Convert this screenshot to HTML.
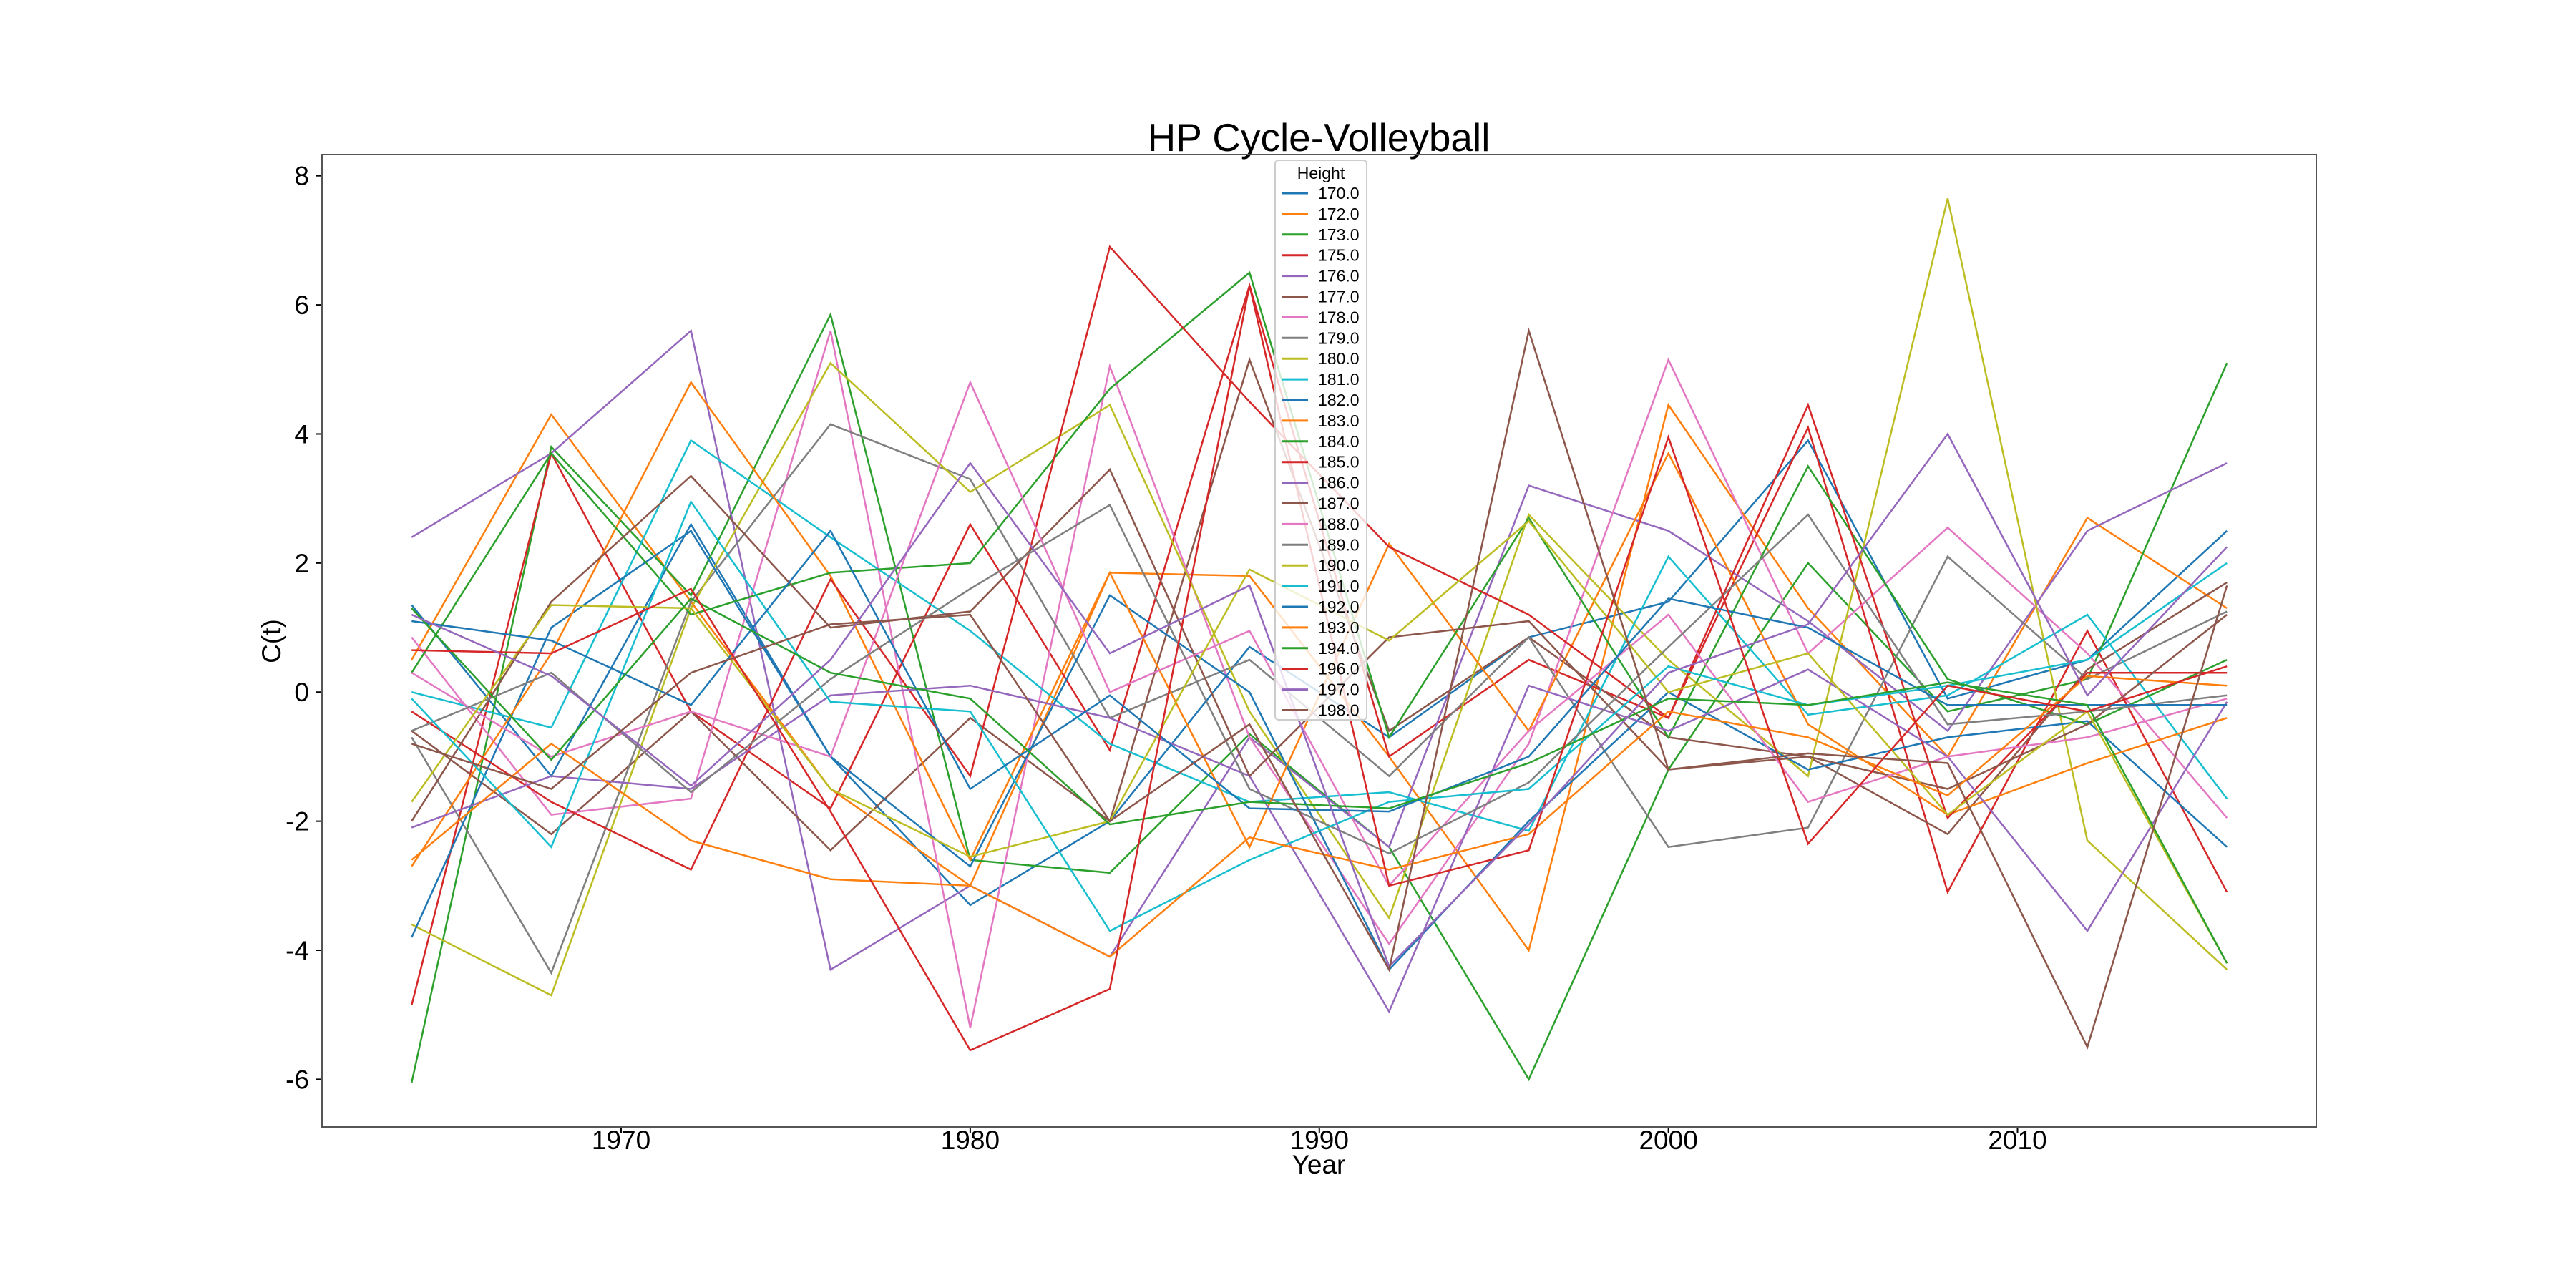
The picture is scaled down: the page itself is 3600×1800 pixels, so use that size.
<!DOCTYPE html>
<html><head><meta charset="utf-8"><style>
html,body{margin:0;padding:0;background:#fff;}
svg{display:block;font-family:"Liberation Sans","DejaVu Sans",sans-serif;}
</style></head><body>
<svg id="chart" width="3600" height="1800" viewBox="0 0 3600 1800" xmlns="http://www.w3.org/2000/svg">
<rect width="3600" height="1800" fill="#fff"/>
<text x="1843" y="211" font-size="55" text-anchor="middle">HP Cycle-Volleyball</text>
<g id="plot"></g>
<rect x="450" y="216" width="2787" height="1359" fill="none" stroke="#555" stroke-width="2"/>
<text x="1843" y="1640" font-size="37" text-anchor="middle">Year</text>
<text x="392" y="896" font-size="37" text-anchor="middle" transform="rotate(-90 392 896)">C(t)</text>
<g id="legend"></g>
</svg>
<script>
const years=[1964,1968,1972,1976,1980,1984,1988,1992,1996,2000,2004,2008,2012,2016];
const xTicks=[1970,1980,1990,2000,2010];
const yTicks=[-6,-4,-2,0,2,4,6,8];
const labels=["170.0","172.0","173.0","175.0","176.0","177.0","178.0","179.0","180.0","181.0","182.0","183.0","184.0","185.0","186.0","187.0","188.0","189.0","190.0","191.0","192.0","193.0","194.0","196.0","197.0","198.0"];
const s170=[1.35,-1.3,2.6,-1.0,-3.3,-2.0,0.7,-0.7,0.85,1.4,3.9,-0.1,0.5,2.5];
const s172=[0.5,4.3,1.4,-1.5,-3.0,1.85,1.8,-1.0,-4.0,4.45,1.3,-1.0,2.7,1.3];
const s173=[-6.05,3.8,1.5,5.85,-2.6,-2.8,-0.65,-2.4,-6.0,-1.2,2.0,-0.3,0.2,5.1];
const s175=[-4.85,3.7,-0.3,-1.8,2.6,-0.9,6.3,-1.0,0.5,-0.4,4.1,-3.1,0.95,-3.1];
const s176=[2.4,3.7,5.6,-4.3,-3.0,-4.1,-0.7,-2.4,3.2,2.5,1.1,-0.6,2.5,3.55];
const s177=[-0.6,-2.2,-0.3,-2.45,-0.4,-2.0,5.15,-0.6,0.85,-0.7,-1.0,-2.2,0.35,1.7];
const s178=[0.85,-1.9,-1.65,5.6,-5.2,5.05,-0.7,-3.9,-0.8,5.15,0.6,2.55,0.6,-1.95];
const s179=[-0.7,-4.35,1.4,4.15,3.3,-0.4,0.5,-1.3,0.85,-2.4,-2.1,2.1,0.2,1.25];
const s180=[-3.6,-4.7,1.3,5.1,3.1,4.45,-0.3,-3.5,2.75,0.5,-1.3,7.65,-2.3,-4.3];
const s181=[0.0,-0.55,3.9,2.4,0.95,-0.8,-1.7,-1.55,-2.15,2.1,-0.35,-0.05,1.2,-1.65];
const s182=[-3.8,1.0,2.5,-1.0,-2.7,1.5,0.0,-4.3,-2.0,0.0,-1.2,-0.7,-0.45,-2.4];
const s183=[-2.7,0.6,4.8,1.8,-2.6,1.85,-2.4,2.3,-0.6,3.7,-0.5,-1.9,-1.1,-0.4];
const s184=[0.3,3.7,1.2,1.85,2.0,4.7,6.5,-0.7,2.7,-0.7,3.5,0.2,-0.5,0.5];
const s185=[-0.3,-1.7,-2.75,1.75,-1.3,6.9,4.5,2.25,1.2,-0.4,4.45,-1.95,0.3,0.3];
const s186=[-2.1,-1.3,-1.5,-0.05,0.1,-0.4,-1.3,-4.95,0.1,-0.6,0.35,-1.0,-3.7,-0.15];
const s187=[-2.0,1.4,3.35,1.0,1.25,3.45,-1.3,0.85,1.1,-1.2,-1.0,-1.5,-0.5,1.2];
const s188=[0.3,-1.0,-0.3,-1.0,4.8,0.0,0.95,-3.0,-0.6,1.2,-1.7,-1.0,-0.7,-0.1];
const s189=[-0.6,0.3,-1.55,0.2,1.6,2.9,-1.5,-2.5,-1.4,0.7,2.75,-0.5,-0.3,-0.05];
const s190=[-1.7,1.35,1.3,-1.5,-2.55,-2.0,1.9,0.8,2.65,0.0,0.6,-1.9,-0.3,-4.2];
const s191=[-0.1,-2.4,2.95,-0.15,-0.3,-3.7,-2.6,-1.7,-1.5,0.4,-0.2,0.1,0.5,2.0];
const s192=[1.1,0.8,-0.2,2.5,-1.5,-0.05,-1.8,-1.85,-1.0,1.45,1.0,-0.2,-0.2,-0.2];
const s193=[-2.6,-0.8,-2.3,-2.9,-3.0,-4.1,-2.25,-2.75,-2.2,-0.3,-0.7,-1.6,0.25,0.1];
const s194=[1.3,-1.05,1.45,0.3,-0.1,-2.05,-1.7,-1.8,-1.1,-0.1,-0.2,0.15,-0.2,-4.2];
const s196=[0.65,0.6,1.6,-1.85,-5.55,-4.6,6.3,-3.0,-2.45,3.95,-2.35,0.1,-0.3,0.4];
const s197=[1.2,0.25,-1.45,0.5,3.55,0.6,1.65,-4.25,-2.05,0.3,1.05,4.0,-0.05,2.25];
const s198=[-0.8,-1.5,0.3,1.05,1.2,-2.0,-0.5,-4.3,5.6,-1.2,-0.95,-1.1,-5.5,1.65];
const series=[s170,s172,s173,s175,s176,s177,s178,s179,s180,s181,s182,s183,s184,s185,s186,s187,s188,s189,s190,s191,s192,s193,s194,s196,s197,s198];
const palette=["#1f77b4","#ff7f0e","#2ca02c","#d62728","#9467bd","#8c564b","#e377c2","#7f7f7f","#bcbd22","#17becf"];
const NS="http://www.w3.org/2000/svg";
function xs(y){return 868+(y-1970)*(2819.5-868)/40;}
function ys(v){return 1508.4-(v+6)*(1508.4-245.7)/14;}
const plot=document.getElementById('plot');
function mk(tag,attrs,parent){const e=document.createElementNS(NS,tag);for(const k in attrs)e.setAttribute(k,attrs[k]);parent.appendChild(e);return e;}
xTicks.forEach(t=>{
  const l=mk('line',{x1:xs(t),x2:xs(t),y1:1575,y2:1583,stroke:'#000','stroke-width':2},plot);
  
  
  const tx=mk('text',{x:xs(t),y:1606,'font-size':37,'text-anchor':'middle'},plot);
  tx.textContent=t;
  
  
});
yTicks.forEach(t=>{
  const l=mk('line',{x1:442,x2:450,y1:ys(t),y2:ys(t),stroke:'#000','stroke-width':2},plot);
  
  
  const tx=mk('text',{x:432,y:ys(t)+13,'font-size':37,'text-anchor':'end'},plot);
  tx.textContent=t;
  
  
});
series.forEach((s,i)=>{
  const d=s.map((v,j)=>(j?'L':'M')+xs(years[j]).toFixed(1)+','+ys(v).toFixed(1)).join('');
  const p=mk('path',{d:d,fill:'none',stroke:palette[i%10],'stroke-width':2.5},plot);
  
  
});
const lg=document.getElementById('legend');


mk('rect',{x:1782,y:224,width:128,height:782,rx:5,fill:'#fff','fill-opacity':0.8,stroke:'#ccc','stroke-width':2},lg);
const lt=mk('text',{x:1846,y:250,'font-size':23,'text-anchor':'middle'},lg);
lt.textContent='Height';


labels.forEach((lab,i)=>{
  const y=270+i*28.9;
  const g=mk('g',{},lg);
  
  
  mk('line',{x1:1792,x2:1828,y1:y,y2:y,stroke:palette[i%10],'stroke-width':3},g);
  const t=mk('text',{x:1842,y:y+8,'font-size':23},g);
  t.textContent=lab;
});
</script>
</body></html>
